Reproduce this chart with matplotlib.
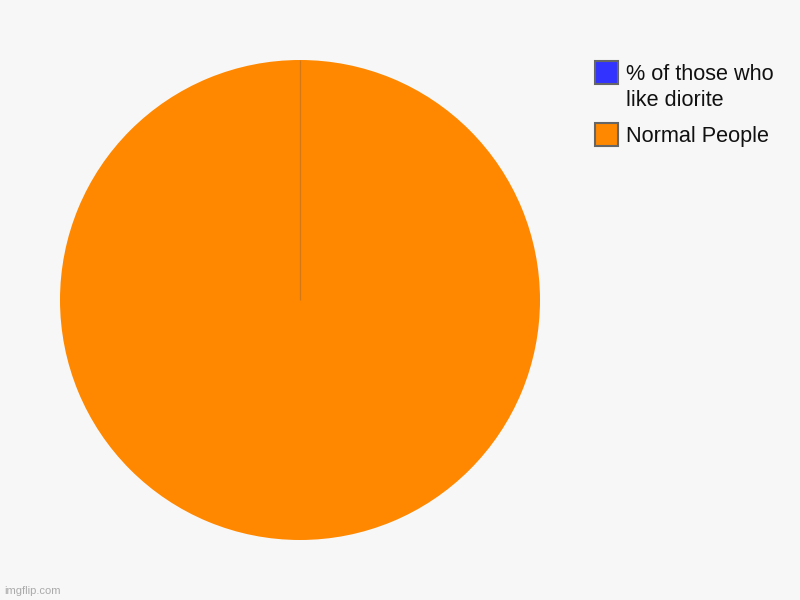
import matplotlib
matplotlib.use("Agg")
import matplotlib.pyplot as plt
from matplotlib.patches import Rectangle
import numpy as np

labels = ["% of those who\nlike diorite", "Normal People"]
values = [0, 100]
colors = ["#3333FF", "#FF8800"]

plt.rcParams['font.family'] = ['Liberation Sans', 'DejaVu Sans']
bg = "#F7F7F7"
fig = plt.figure(figsize=(8, 6), dpi=100, facecolor=bg)
ax = fig.add_axes([0.075, 0.1, 0.6, 0.8])
ax.set_facecolor(bg)
wedges, _ = ax.pie(values, colors=colors, startangle=90, counterclock=False,
                   radius=1.0, wedgeprops=dict(linewidth=0))
# edge of the zero-size slice
for w in wedges:
    if abs(w.theta2 - w.theta1) < 1e-9:
        t = np.deg2rad(w.theta1)
        ax.plot([w.center[0], w.center[0] + w.r * np.cos(t)],
                [w.center[1], w.center[1] + w.r * np.sin(t)],
                color="#C8741C", linewidth=0.9, alpha=0.8, solid_capstyle='butt')
ax.set_xlim(-1, 1)
ax.set_ylim(-1, 1)
ax.set_aspect('equal')
ax.axis('off')

# legend
tops = [61, 123]
for lab, col, top in zip(labels, colors, tops):
    fig.add_artist(Rectangle((595 / 800, 1 - (top + 23) / 600), 23 / 800, 23 / 600,
                             transform=fig.transFigure, facecolor=col,
                             edgecolor="#666666", linewidth=1.5))
    fig.text(626 / 800, 1 - (top + 3) / 600, lab, ha='left', va='top',
             fontsize=15.6, color="#111111", linespacing=1.32)

fig.text(4 / 800, 1 - 591 / 600, "imgflip.com", ha='left', va='center',
         fontsize=8, color="#AAAAAA")

fig.savefig("out.png", dpi=100, facecolor=bg)
